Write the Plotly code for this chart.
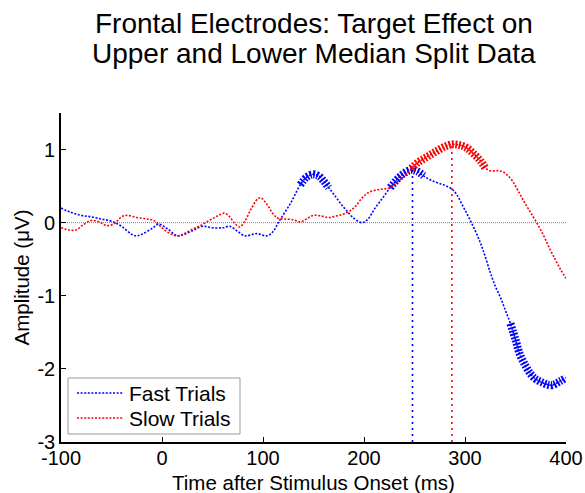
import plotly.graph_objects as go

# ---- data ----
fast_t = [-100, -90, -80, -70, -60, -50, -40, -30, -25, -20, -10, -3, 5, 15, 20, 30, 40, 50, 60, 67,
          75, 82, 94, 104, 110, 116, 127, 137, 143, 149, 155, 160, 165, 170, 177, 183, 190, 198, 204, 210,
          218, 226, 232, 238, 244, 248, 253, 259, 265, 272, 280, 287, 292, 297, 302, 307, 313, 318, 325, 330,
          335, 340, 345, 350, 354, 360, 365, 370, 377, 383, 387, 394, 400]
fast_v = [0.20, 0.14, 0.10, 0.08, 0.05, 0.02, -0.05, -0.16, -0.18, -0.16, -0.08, -0.02, -0.08, -0.18, -0.17, -0.11, -0.05, -0.07, -0.07, -0.05,
          -0.12, -0.18, -0.15, -0.18, -0.12, 0.02, 0.26, 0.52, 0.62, 0.66, 0.64, 0.57, 0.48, 0.39, 0.26, 0.16, 0.06, 0.0, 0.05, 0.18,
          0.33, 0.48, 0.58, 0.66, 0.71, 0.72, 0.70, 0.64, 0.59, 0.55, 0.51, 0.46, 0.38, 0.25, 0.12, -0.02, -0.20, -0.38, -0.68, -0.87,
          -1.02, -1.20, -1.38, -1.60, -1.79, -1.96, -2.07, -2.14, -2.19, -2.22, -2.22, -2.17, -2.12]

slow_t = [-100, -92, -85, -78, -70, -62, -55, -48, -40, -35, -25, -15, -8, 0, 8, 15, 22, 30, 38, 48,
          56, 62, 67, 72, 77, 82, 88, 95, 98, 104, 110, 115, 122, 130, 137, 143, 150, 158, 165, 172,
          180, 187, 192, 197, 203, 210, 218, 224, 230, 236, 241, 247, 253, 260, 266, 272, 280, 287, 295, 302,
          308, 315, 320, 325, 332, 337, 342, 347, 352, 358, 364, 371, 378, 384, 390, 395, 400]
slow_v = [-0.07, -0.10, -0.10, -0.03, 0.03, 0.01, -0.04, -0.02, 0.08, 0.10, 0.07, 0.05, 0.03, -0.07, -0.15, -0.18, -0.15, -0.09, -0.04, 0.04,
          0.10, 0.13, 0.08, -0.01, -0.06, 0.02, 0.18, 0.33, 0.34, 0.25, 0.12, 0.06, 0.05, 0.04, 0.01, 0.05, 0.10, 0.09, 0.07, 0.09,
          0.12, 0.17, 0.23, 0.32, 0.40, 0.44, 0.46, 0.47, 0.52, 0.59, 0.65, 0.74, 0.82, 0.88, 0.93, 0.98, 1.04, 1.07, 1.06, 1.02,
          0.95, 0.85, 0.75, 0.71, 0.71, 0.70, 0.65, 0.57, 0.45, 0.30, 0.16, 0.0, -0.18, -0.36, -0.52, -0.65, -0.76]

# significant windows (ms)
fast_windows = [(137, 165), (226, 259), (342, 400)]
slow_windows = [(247, 322)]

# peak latencies
fast_peak = (248, 0.72)
slow_peak = (287, 1.07)

x_ticks = [-100, 0, 100, 200, 300, 400]
y_ticks = [-3, -2, -1, 0, 1]

title_lines = ["Frontal Electrodes: Target Effect on", "Upper and Lower Median Split Data"]
legend_names = ["Fast Trials", "Slow Trials"]
x_title = "Time after Stimulus Onset (ms)"
y_title = "Amplitude (μV)"

BLUE = "#0000ff"
RED = "#ff0000"
FONT = "Liberation Sans, Arial, sans-serif"
THIN_DASH = "2px,1.6px"

fig = go.Figure()

# zero line
fig.add_trace(go.Scatter(x=[x_ticks[0], x_ticks[-1]], y=[0, 0], mode="lines",
                         line=dict(color="#808080", width=1, dash="1px,1px"),
                         showlegend=False, hoverinfo="skip"))

def add_curve(t, v, color, name, windows, peak):
    fig.add_trace(go.Scatter(x=t, y=v, mode="lines", name=name, showlegend=False,
                             line=dict(color=color, width=1.6, dash=THIN_DASH, shape="spline")))
    for a, b in windows:
        idx = [i for i, tt in enumerate(t) if a <= tt <= b]
        fig.add_trace(go.Scatter(x=[t[i] for i in idx], y=[v[i] for i in idx], mode="lines",
                                 line=dict(color=color, width=8, dash="1.8px,1.6px", shape="spline"),
                                 showlegend=False, hoverinfo="skip"))
    fig.add_trace(go.Scatter(x=[peak[0], peak[0]], y=[y_ticks[0], peak[1]], mode="lines",
                             line=dict(color=color, width=1.6, dash="2px,4px"),
                             showlegend=False, hoverinfo="skip"))

add_curve(fast_t, fast_v, BLUE, legend_names[0], fast_windows, fast_peak)
add_curve(slow_t, slow_v, RED, legend_names[1], slow_windows, slow_peak)

axis_common = dict(showline=True, linecolor="black", linewidth=1.6, ticks="inside",
                   ticklen=5, tickwidth=1.2, tickcolor="black", showgrid=False, zeroline=False,
                   automargin=False,
                   tickfont=dict(family=FONT, size=20, color="black"), mirror=False)

fig.update_xaxes(range=[-100, 400], tickvals=x_ticks, ticktext=[str(v) for v in x_ticks],
                 ticklabelstandoff=-3,
                 **axis_common)
fig.update_yaxes(range=[-3, 1.5], tickvals=y_ticks, ticktext=[str(v) for v in y_ticks],
                 title=dict(text=y_title, font=dict(family=FONT, size=20.5, color="black"),
                            standoff=2),
                 **axis_common)

# pixel helpers relative to plot area
plot_left, plot_w = 61, 505
plot_top, plot_h = 113, 329
def px_x(px):
    return (px - plot_left) / plot_w
def px_y(py):
    return 1 - (py - plot_top) / plot_h

# title as two annotations (pixel-controlled spacing)
for line, ypx in zip(title_lines, [23, 54]):
    fig.add_annotation(text=line, xref="paper", yref="paper", x=0.5, xanchor="center",
                       y=px_y(ypx), yanchor="middle", showarrow=False,
                       font=dict(family=FONT, size=28, color="black"))

# x-axis title
fig.add_annotation(text=x_title, xref="paper", yref="paper", x=0.5, xanchor="center",
                   y=px_y(482), yanchor="middle", showarrow=False,
                   font=dict(family=FONT, size=20.5, color="black"))

# legend box (drawn to match the compact MATLAB-style legend)
fig.add_shape(type="rect", xref="paper", yref="paper", x0=px_x(68), x1=px_x(240),
              y0=px_y(434), y1=px_y(378), line=dict(color="#999999", width=1), fillcolor="white",
              layer="above")
for name, color, row in zip(legend_names, [BLUE, RED], [393, 418]):
    fig.add_shape(type="line", xref="paper", yref="paper", x0=px_x(77), x1=px_x(123),
                  y0=px_y(row), y1=px_y(row), line=dict(color=color, width=1.6, dash=THIN_DASH),
                  layer="above")
    fig.add_annotation(text=name, xref="paper", yref="paper", x=px_x(127), xanchor="left",
                       y=px_y(row), yanchor="middle", showarrow=False,
                       font=dict(family=FONT, size=21, color="black"))

fig.update_layout(
    width=585, height=493,
    margin=dict(l=61, r=19, t=113, b=51, autoexpand=False),
    paper_bgcolor="white", plot_bgcolor="white",
    showlegend=False,
)

fig.write_html("out.html")
